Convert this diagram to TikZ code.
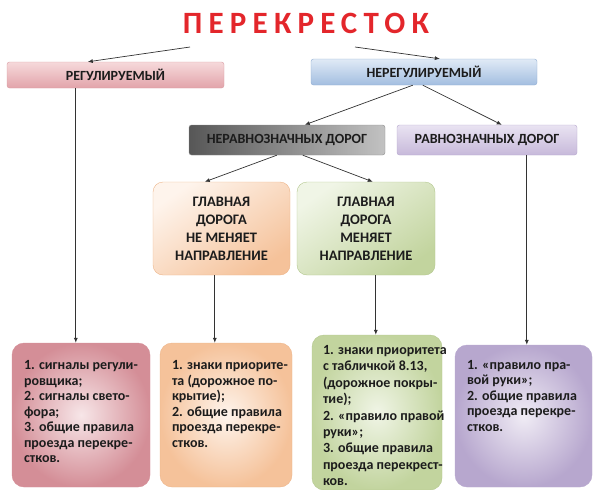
\documentclass[tikz,border=0pt]{standalone}
\usepackage{fontspec}
\setmainfont{Carlito}
\newfontfamily\titlefont[LetterSpace=20]{Carlito}
\usepackage{xcolor}
\usetikzlibrary{arrows.meta,positioning,calc}

\definecolor{titlered}{HTML}{E3262B}
\definecolor{ink}{HTML}{1C1C1C}
\definecolor{regtop}{HTML}{F6D9DB}
\definecolor{regbot}{HTML}{E2A4AA}
\definecolor{regedge}{HTML}{D89CA2}
\definecolor{neregtop}{HTML}{E0EAF6}
\definecolor{neregbot}{HTML}{A3BEE0}
\definecolor{neregedge}{HTML}{90ACD1}
\definecolor{ravtop}{HTML}{E9E3F2}
\definecolor{ravbot}{HTML}{C7B9DA}
\definecolor{ravedge}{HTML}{B5A6CC}
\definecolor{peachlight}{HTML}{FEF4EC}
\definecolor{peachdark}{HTML}{F5C29A}
\definecolor{peachedge}{HTML}{EDB58A}
\definecolor{sagelight}{HTML}{F0F5E6}
\definecolor{sagedark}{HTML}{C2D49E}
\definecolor{sageedge}{HTML}{B3C78E}
\definecolor{roselight}{HTML}{F7E6E8}
\definecolor{rosedark}{HTML}{D48E97}
\definecolor{lilaclight}{HTML}{F0ECF5}
\definecolor{lilacdark}{HTML}{B7A7CE}

% card text: width, height, top gap, rows (rows never wrap)
\newcommand{\cardtext}[4]{\parbox[c][#2][t]{#1}{\vspace*{#3}\begin{tabular}[t]{@{}l@{}}#4\end{tabular}}}

\tikzset{
  conn/.style={draw=black!80, line width=0.7pt, -{Latex[length=5pt,width=4pt]}},
  headbox/.style={rectangle, rounded corners=2.5pt, minimum height=26pt, text=ink,
    font=\bfseries\fontsize{14}{16}\selectfont},
  casebox/.style={rectangle, rounded corners=10pt, align=center, text=ink,
    minimum width=137pt, minimum height=93pt,
    font=\bfseries\fontsize{14.5}{18}\selectfont},
  card/.style={rectangle, rounded corners=12pt, inner sep=12pt, text=ink,
    font=\bfseries\fontsize{14}{15.5}\selectfont}
}

\begin{document}
\begin{tikzpicture}[x=1pt,y=-1pt,>=Latex]
  \useasboundingbox (0,0) rectangle (600,490);
  % Title
  \node[font=\titlefont\bfseries\fontsize{31}{34}\selectfont, text=titlered] (title) at (306,23) {ПЕРЕКРЕСТОК};
  \coordinate (tl) at (190,47);
  \coordinate (tr) at (355,47);
  % First level
  \node[headbox, minimum width=217pt, top color=regtop, bottom color=regbot, draw=regedge] (reg) at (115.5,75) {РЕГУЛИРУЕМЫЙ};
  \node[headbox, minimum width=226pt, top color=neregtop, bottom color=neregbot, draw=neregedge] (nereg) at (424,72) {НЕРЕГУЛИРУЕМЫЙ};
  % Second level
  \node[headbox, minimum width=196pt, minimum height=30pt, left color=black!66, right color=black!24, draw=black!45] (nerav) at (287,140) {НЕРАВНОЗНАЧНЫХ ДОРОГ};
  \node[headbox, minimum width=180pt, minimum height=30pt, top color=ravtop, bottom color=ravbot, draw=ravedge] (rav) at (487,140) {РАВНОЗНАЧНЫХ ДОРОГ};
  % Main road cases
  \node[casebox, top color=peachlight, bottom color=peachdark, shading angle=35, draw=peachedge] (glav1) at (221.5,228.5) {ГЛАВНАЯ\\ДОРОГА\\НЕ МЕНЯЕТ\\НАПРАВЛЕНИЕ};
  \node[casebox, minimum width=138pt, top color=sagelight, bottom color=sagedark, shading angle=35, draw=sageedge] (glav2) at (366,228.5) {ГЛАВНАЯ\\ДОРОГА\\МЕНЯЕТ\\НАПРАВЛЕНИЕ};
  % Rule cards
  \node[card, inner color=roselight, outer color=rosedark, draw=rosedark] (b1) at (81,415)
    {\cardtext{114pt}{120pt}{4pt}{1. сигналы регули-\\ровщика;\\2. сигналы свето-\\фора;\\3. общие правила\\проезда перекре-\\стков.}};
  \node[card, inner color=peachlight, outer color=peachdark, draw=peachedge] (b2) at (226,415)
    {\cardtext{108pt}{120pt}{4pt}{1. знаки приорите-\\та (дорожное по-\\крытие);\\2. общие правила\\проезда перекре-\\стков.}};
  \node[card, inner xsep=11pt, inner ysep=8pt, inner color=sagelight, outer color=sagedark, draw=sageedge,
    font=\bfseries\fontsize{14}{16.4}\selectfont] (b3) at (377,412.5)
    {\cardtext{108pt}{139pt}{0pt}{1. знаки приоритета\\с табличкой 8.13,\\(дорожное покры-\\тие);\\2. «правило правой\\руки»;\\3. общие правила\\проезда перекрест-\\ков.}};
  \node[card, inner color=lilaclight, outer color=lilacdark, draw=lilacdark] (b4) at (523.5,416)
    {\cardtext{113pt}{118pt}{1.5pt}{1. «правило пра-\\вой руки»;\\2. общие правила\\проезда перекре-\\стков.}};
  % Connectors
  \draw[conn] (tl) -- ($(reg.north west)+(81,0)$);
  \draw[conn] (tr) -- ($(nereg.north west)+(129,0)$);
  \draw[conn] ($(nereg.south west)+(102,0)$) -- ($(nerav.north west)+(116,0)$);
  \draw[conn] ($(nereg.south west)+(112,0)$) -- ($(rav.north west)+(105,0)$);
  \draw[conn] ($(nerav.south west)+(88,0)$) -- ($(glav1.north west)+(52,0)$);
  \draw[conn] ($(nerav.south west)+(114,0)$) -- ($(glav2.north west)+(76,0)$);
  \draw[conn] ($(reg.south west)+(69,0)$) coordinate (r1) -- (r1 |- b1.north);
  \draw[conn] ($(glav1.south west)+(62,0)$) coordinate (r2) -- (r2 |- b2.north);
  \draw[conn] ($(glav2.south west)+(79,0)$) coordinate (r3) -- (r3 |- b3.north);
  \draw[conn] ($(rav.south west)+(130,0)$) coordinate (r4) -- (r4 |- b4.north);
\end{tikzpicture}
\end{document}
